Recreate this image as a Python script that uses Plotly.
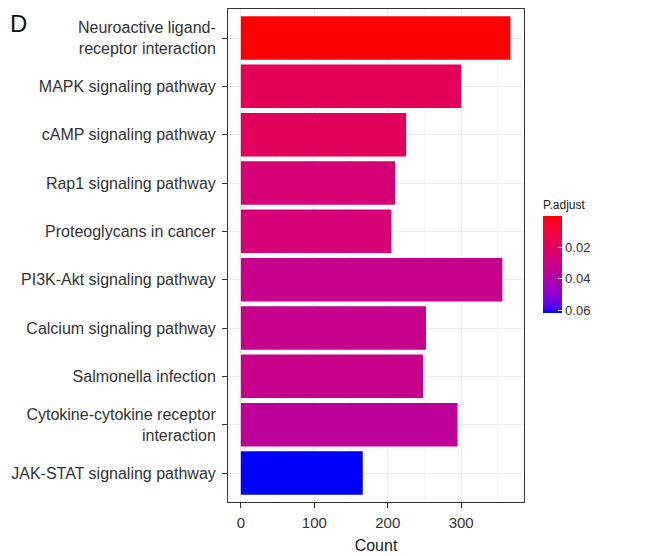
import plotly.graph_objects as go
import numpy as np

categories = [
    "Neuroactive ligand-<br>receptor interaction",
    "MAPK signaling pathway",
    "cAMP signaling pathway",
    "Rap1 signaling pathway",
    "Proteoglycans in cancer",
    "PI3K-Akt signaling pathway",
    "Calcium signaling pathway",
    "Salmonella infection",
    "Cytokine-cytokine receptor<br>interaction",
    "JAK-STAT signaling pathway",
]
counts = [367, 300, 225, 210, 205, 356, 252, 248, 295, 166]
p_adjust = [0.0003, 0.018, 0.019, 0.026, 0.026, 0.032, 0.032, 0.032, 0.035, 0.0615]
cbar_ticks = [0.02, 0.04, 0.06]
x_ticks = [0, 100, 200, 300]


# --- Lab interpolation between red (low) and blue (high), like ggplot2 ---
def srgb_to_lab(rgb):
    c = np.array(rgb) / 255.0
    c = np.where(c > 0.04045, ((c + 0.055) / 1.055) ** 2.4, c / 12.92)
    M = np.array([[0.4124, 0.3576, 0.1805], [0.2126, 0.7152, 0.0722], [0.0193, 0.1192, 0.9505]])
    xyz = M @ c / np.array([0.95047, 1.0, 1.08883])
    f = np.where(xyz > 0.008856, np.cbrt(xyz), 7.787 * xyz + 16 / 116)
    return np.array([116 * f[1] - 16, 500 * (f[0] - f[1]), 200 * (f[1] - f[2])])


def lab_to_srgb(lab):
    L, a, b = lab
    fy = (L + 16) / 116
    fx = fy + a / 500
    fz = fy - b / 200
    f = np.array([fx, fy, fz])
    xyz = np.where(f ** 3 > 0.008856, f ** 3, (f - 16 / 116) / 7.787) * np.array([0.95047, 1.0, 1.08883])
    Minv = np.array([[3.2406, -1.5372, -0.4986], [-0.9689, 1.8758, 0.0415], [0.0557, -0.2040, 1.0570]])
    c = Minv @ xyz
    c = np.clip(c, 0, 1)
    c = np.where(c > 0.0031308, 1.055 * c ** (1 / 2.4) - 0.055, 12.92 * c)
    return tuple(int(round(v * 255)) for v in np.clip(c, 0, 1))


red_lab = srgb_to_lab((255, 0, 0))
blue_lab = srgb_to_lab((0, 0, 255))
n = 21
colorscale = []
for i in range(n):
    s = i / (n - 1)  # 0 -> bottom (high p, blue), 1 -> top (low p, red)
    t = 1 - s
    lab = red_lab + (blue_lab - red_lab) * t
    r, g, b = lab_to_srgb(lab)
    colorscale.append([s, f"rgb({r},{g},{b})"])

# colour value is -p so that red (low p) sits at the top of the colorbar
neg_p = [-p for p in p_adjust]

# page body has an 8px margin; figure geometry compensates for it
OFF = 8
W, H = 654, 548
ML, MT = 228 - OFF, 9 - OFF
PW, PH = 296, 493
MR = W - ML - PW
MB = H - MT - PH

fig = go.Figure()
fig.add_trace(go.Bar(
    x=counts,
    y=categories,
    orientation="h",
    width=0.9,
    marker=dict(
        color=neg_p,
        colorscale=colorscale,
        cmin=min(neg_p),
        cmax=max(neg_p),
        line=dict(width=0),
        showscale=True,
        colorbar=dict(
            title=dict(text="P.adjust", side="top", font=dict(size=12, color="#1a1a1a")),
            x=1 + (543 - OFF - (ML + PW)) / PW, xanchor="left",
            y=1 - (313 - OFF - MT) / PH, yanchor="bottom",
            lenmode="pixels", len=116,
            thicknessmode="pixels", thickness=19,
            tickvals=[-v for v in cbar_ticks],
            ticktext=[f"{v:.2f}" for v in cbar_ticks],
            ticks="inside", ticklen=4, tickcolor="white",
            tickfont=dict(size=13, color="#333333"),
            outlinewidth=0,
            xpad=0, ypad=0,
        ),
    ),
    showlegend=False,
))

fig.update_layout(
    width=W, height=H,
    margin=dict(l=ML, r=MR, t=MT, b=MB, autoexpand=False),
    paper_bgcolor="white",
    plot_bgcolor="white",
    font=dict(family="Liberation Sans, Arial, sans-serif", size=15, color="#333333"),
    bargap=0.1,
    xaxis=dict(
        automargin=False,
        range=[-17.5, 385.5],
        tickvals=x_ticks,
        ticks="outside", ticklen=5, tickcolor="#333333", tickwidth=1,
        tickfont=dict(size=15, color="#333333"),
        ticklabelstandoff=2,
        showgrid=True, gridcolor="#EBEBEB", gridwidth=1,
        minor=dict(dtick=50, tick0=0, showgrid=True, gridcolor="#F4F4F4", gridwidth=1),
        zeroline=False,
        showline=True, linecolor="#333333", linewidth=1, mirror=True,
        title=dict(text="Count", font=dict(size=16, color="#1a1a1a"), standoff=9),
    ),
    yaxis=dict(
        automargin=False,
        categoryorder="array",
        categoryarray=categories[::-1],
        range=[-0.6, len(categories) - 0.4],
        ticks="outside", ticklen=5, tickcolor="#333333", tickwidth=1,
        tickfont=dict(size=16, color="#333333"),
        ticklabelstandoff=3,
        showgrid=True, gridcolor="#EBEBEB", gridwidth=1,
        zeroline=False,
        showline=True, linecolor="#333333", linewidth=1, mirror=True,
    ),
)
fig.add_annotation(
    text="D", xref="paper", yref="paper",
    x=(8 - OFF - ML) / PW, y=1 - (8 - OFF - MT) / PH,
    xanchor="left", yanchor="top", showarrow=False,
    font=dict(size=24, color="#111111"),
)

fig.write_html("out.html")
